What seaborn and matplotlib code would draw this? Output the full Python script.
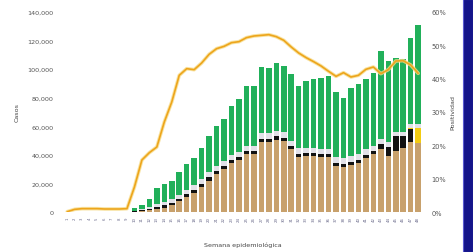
import numpy as np
import pandas as pd
import matplotlib
matplotlib.use("Agg")
import matplotlib.pyplot as plt
import seaborn as sns
from matplotlib.patches import Rectangle
from matplotlib.ticker import FuncFormatter

weeks = [str(i) for i in range(1, 49)]

# thousands of cases
total = [0, 0, 0, 0, 0, 0, 0, 0, 0, 2.5, 5, 9, 17, 19.6, 22, 28, 33.6, 38, 44.5, 53.5,
         60, 65, 74.3, 79, 88.5, 88, 101.5, 101, 104.5, 102, 96.5, 88.5, 91.5, 93, 93.5, 95.5,
         84, 80, 87, 89.5, 93, 97, 113, 105.5, 108, 107, 122, 131]
tan = [0, 0, 0, 0, 0, 0, 0, 0, 0, 0.2, 0.5, 1.2, 2, 3, 4.6, 7.4, 10.4, 13.5, 17.4, 22,
       26.3, 30, 34.5, 36.5, 40.7, 40.5, 48.9, 48.9, 50.5, 49.5, 43.8, 38.5, 39, 39, 38.2, 38.2,
       32, 31.4, 33, 34.2, 38, 40.5, 44, 39.5, 43, 44.6, 49, 48]
black = [0, 0, 0, 0, 0, 0, 0, 0, 0, 0.4, 0.8, 1.2, 1.5, 1.6, 1.8, 2, 2.2, 2.2, 2.2, 2.2,
         2.2, 2.2, 2.2, 2.2, 2.2, 2.2, 2.4, 2.4, 2.4, 2.4, 2.2, 2.2, 2.2, 2.2, 2.2, 2.2,
         2.2, 2.2, 2.2, 2.2, 2.2, 2.5, 3.5, 6, 10, 8.4, 9, 0]
yellow = [0] * 46 + [0.6, 10.5]
gray = [0, 0, 0, 0, 0, 0, 0, 0, 0, 0.3, 0.6, 1.2, 2, 2.2, 2.5, 2.8, 3, 3.2, 3.4, 3.5,
        3.5, 3.5, 3.5, 3.5, 3.5, 3.5, 3.8, 3.8, 3.8, 3.8, 3.8, 3.8, 3.8, 3.8, 3.8, 3.8,
        4.2, 4.2, 4, 4, 4, 3.5, 3.5, 3.5, 3, 3, 3, 3]
positividad = [0.1, 0.8, 1.0, 1.0, 1.0, 0.9, 0.9, 0.9, 1.0, 7.5, 15.6, 17.8, 19.5, 27, 33, 41,
               43, 42.7, 44.7, 47.3, 49, 49.7, 50.8, 51.1, 52.3, 52.8, 53.0, 53.2, 52.6, 51.5,
               49.5, 47.7, 46.3, 45.1, 43.8, 42.2, 40.7, 41.8, 40.5, 41, 42.8, 43.5, 41.5, 42.7,
               45.3, 45.4, 44.1, 41.6]

df = pd.DataFrame({"semana": weeks,
                   "tan": np.array(tan) * 1000,
                   "black": np.array(black) * 1000,
                   "yellow": np.array(yellow) * 1000,
                   "gray": np.array(gray) * 1000,
                   "total": np.array(total) * 1000,
                   "pos": np.array(positividad) / 100})
df["c1"] = df["tan"]
df["c2"] = df["c1"] + df["black"]
df["c3"] = df["c2"] + df["yellow"]
df["c4"] = df["c3"] + df["gray"]
df["c5"] = np.maximum(df["total"], df["c4"])

sns.set_theme(style="white")
plt.rcParams["font.family"] = ["DejaVu Sans"]

fig = plt.figure(figsize=(4.73, 2.53), dpi=100)
ax = fig.add_axes([62 / 473, 1 - 213 / 253, 361.4 / 473, 200 / 253])

layers = [("c5", "#21b05a"), ("c4", "#e2e1e8"), ("c3", "#f3cc12"),
          ("c2", "#121212"), ("c1", "#c8a16c")]
for col, colr in layers:
    sns.barplot(data=df, x="semana", y=col, color=colr, saturation=1,
                width=0.74, ax=ax, linewidth=0, order=weeks)

ax.set_ylim(0, 140000)
ax.set_xlim(-0.7, 47.7)
ax.set_yticks(np.arange(0, 140001, 20000))
ax.yaxis.set_major_formatter(FuncFormatter(lambda v, p: f"{int(v):,}"))
ax.tick_params(axis="y", labelsize=4.6, colors="#555555", length=0, pad=6)
ax.tick_params(axis="x", labelsize=2.8, colors="#6a6a8a", length=0, pad=3,
               labelrotation=90)
ax.set_ylabel("Casos", fontsize=4.6, color="#444444", labelpad=6)
ax.set_xlabel("Semana epidemiológica", fontsize=4.6, color="#444444", labelpad=15)
for s in ax.spines.values():
    s.set_visible(False)

ax2 = ax.twinx()
x = np.arange(len(weeks))
sns.lineplot(x=x, y=df["pos"], ax=ax2, color="#f7dc8a", linewidth=2.6, alpha=0.8)
sns.lineplot(x=x, y=df["pos"], ax=ax2, color="#eda51c", linewidth=1.2)
ax2.set_ylim(0, 0.6)
ax2.set_xlim(-0.7, 47.7)
ax2.set_yticks(np.arange(0, 0.61, 0.1))
ax2.yaxis.set_major_formatter(FuncFormatter(lambda v, p: f"{v * 100:.0f}%"))
ax2.tick_params(axis="y", labelsize=4.8, colors="#555555", length=0, pad=6)
ax2.set_ylabel("Positividad", fontsize=4.6, color="#444444", labelpad=3)
for s in ax2.spines.values():
    s.set_visible(False)

fig.patches.append(Rectangle((463 / 473, 0), 10 / 473, 1, transform=fig.transFigure,
                             facecolor="#14148a", edgecolor="#5a5ad0", linewidth=0.8,
                             zorder=10))

fig.savefig("out.png", dpi=100)
